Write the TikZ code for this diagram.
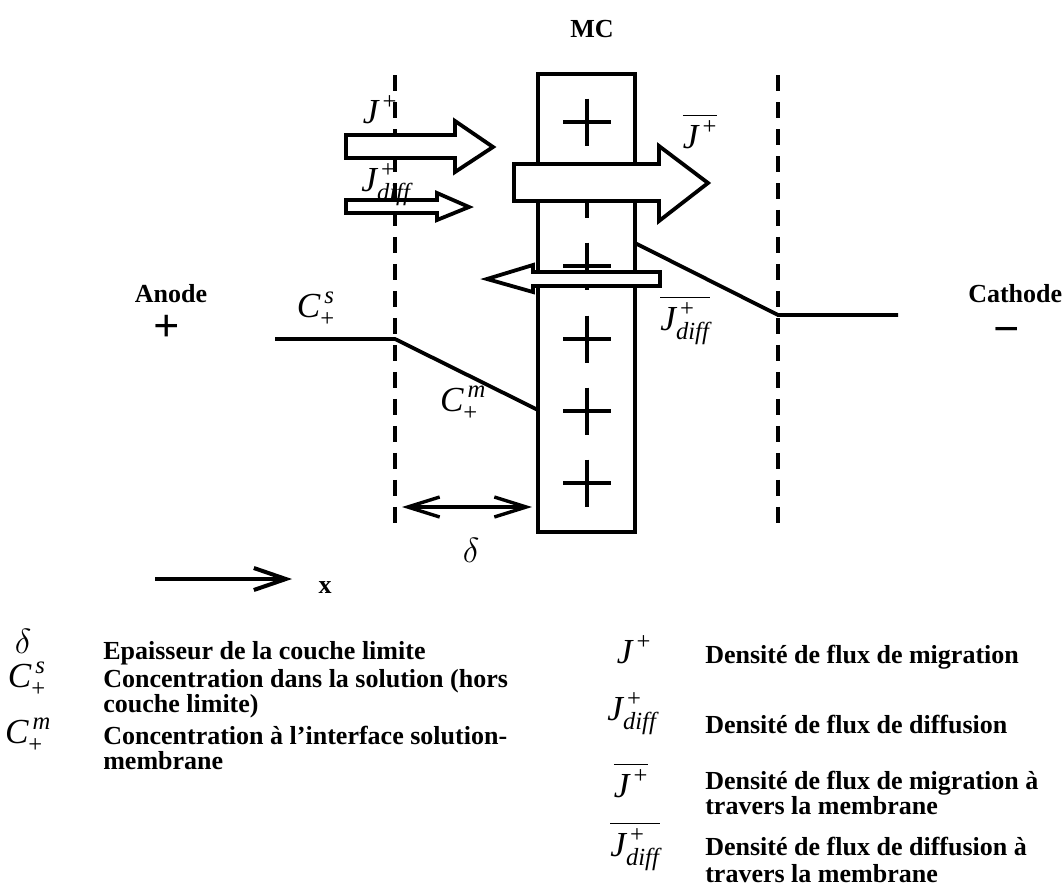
\documentclass[tikz,border=0pt]{standalone}
\usepackage{amsmath}
\usepackage{fontspec}
\setmainfont{Liberation Serif}
\usetikzlibrary{arrows.meta}
\usetikzlibrary{positioning}

\newcommand{\Jp}{\textit{J}^{\,\text{+}}}
\newcommand{\Jd}{\textit{J}^{\,\text{+}}_{\textit{diff}}}
\newcommand{\Cs}{\textit{C}^{\,\textit{s}}_{\text{+}}}
\newcommand{\Cm}{\textit{C}^{\,\textit{m}}_{\text{+}}}

\tikzset{
	lbl/.style={font=\fontsize{18.5}{18}\selectfont\bfseries, inner sep=0pt},
	sym/.style={font=\fontsize{25}{28}\selectfont, inner sep=0pt},
	pole/.style={font=\fontsize{33}{33}\selectfont\bfseries, inner sep=0pt, anchor=base, text height=0.5em, text depth=0pt},
	thickline/.style={line width=0.095cm},
	border/.style={line width=0.095cm, dash pattern=on 11.4pt off 7.8pt},
	blockarrow/.style={draw, fill=white, line width=0.095cm, line join=miter},
	barbs/.style={line width=0.1cm, -{Straight Barb[length=0.8cm, width=0.55cm]}},
	twobarbs/.style={line width=0.085cm, {Straight Barb[length=0.8cm, width=0.5cm]}-{Straight Barb[length=0.8cm, width=0.5cm]}},
}

\begin{document}
\begin{tikzpicture}[x=0.025cm, y=-0.025cm, line cap=butt, line join=miter]
		\useasboundingbox (0,0) rectangle (1064,888);
		% boundary layers
		\draw[border] (395,75) -- (395,532);
		\draw[border] (778,75) -- (778,532);
		% membrane with fixed charges
		\draw[thickline] (538,74) rectangle (635,532);
		\foreach \py in {122,194,266,339,411,483}
		\draw[thickline] (563,\py) -- (611,\py) (587,\py-23.5) -- (587,\py+23.5);
		\node[lbl] (mc) at (592,29) {MC};
		% concentration profile
		\draw[thickline] (275,339) -- (395,339) -- (538,410);
		\draw[thickline] (635,243) -- (778,315) -- (898,315);
		% fluxes
		\draw[blockarrow] (346,135) -- (455,135) -- (455,121) -- (493,147) -- (455,172) -- (455,158) -- (346,158) -- cycle;
		\draw[blockarrow] (346,200) -- (437,200) -- (437,193) -- (469,207) -- (437,220) -- (437,213) -- (346,213) -- cycle;
		\draw[blockarrow] (514,164) -- (659,164) -- (659,146) -- (708,183) -- (659,221) -- (659,201) -- (514,201) -- cycle;
		\draw[blockarrow] (660,272) -- (533,272) -- (533,265) -- (487,279) -- (533,292) -- (533,286) -- (660,286) -- cycle;
		\node[sym] (jm) at (380,110) {$\Jp$};
		\node[sym] (jd) at (386,185) {$\Jd$};
		\node[sym] (jmb) at (700,131) {$\overline{\Jp}$};
		\node[sym] (jdb) at (685,320) {$\overline{\Jd}$};
		\node[sym] (cs) at (316,309) {$\Cs$};
		\node[sym] (cm) at (463,403) {$\Cm$};
		% electrodes
		\node[lbl, anchor=base] (anode) at (171,302) {Anode};
		\node[pole] (plus) at (167,341) {+};
		\node[lbl, anchor=base west] (cathode) at (968,302) {Cathode};
		\node[pole] (minus) at (1007,344) {−};
		% delta and x axis
		\coordinate (da) at (402,507);
		\coordinate (db) at (532,507);
		\draw[twobarbs] (da) -- (db);
		\node[sym] (delta) at (471,550) {$\delta$};
		\coordinate (xa) at (155,579);
		\coordinate (xb) at (292,579);
		\draw[barbs] (xa) -- (xb);
		\node[lbl] (xlab) at (325,588) {x};
		% legend
		\node[sym] (ldelta) at (23,641) {$\delta$};
		\node[lbl, anchor=base west] (t1) at (103,659) {Epaisseur de la couche limite};
		\node[sym] (lcs) at (27,679) {$\Cs$};
		\node[lbl, anchor=base west] (t2) at (103,687) {Concentration dans la solution (hors};
		\node[lbl, anchor=base west] (t2b) at (103,712) {couche limite)};
		\node[sym] (lcm) at (28,735) {$\Cm$};
		\node[lbl, anchor=base west] (t3) at (103,744) {Concentration à l’interface solution-};
		\node[lbl, anchor=base west] (t3b) at (103,769) {membrane};
		\node[sym] (ljm) at (634,650) {$\Jp$};
		\node[lbl, anchor=base west] (t4) at (705,663) {Densité de flux de migration};
		\node[sym] (ljd) at (632,714) {$\Jd$};
		\node[lbl, anchor=base west] (t5) at (705,733) {Densité de flux de diffusion};
		\node[sym] (ljmb) at (631,780) {$\overline{\Jp}$};
		\node[lbl, anchor=base west] (t6) at (705,789) {Densité de flux de migration à};
		\node[lbl, anchor=base west] (t6b) at (705,814) {travers la membrane};
		\node[sym] (ljdb) at (635,846) {$\overline{\Jd}$};
		\node[lbl, anchor=base west] (t7) at (705,855) {Densité de flux de diffusion à};
		\node[lbl, anchor=base west] (t7b) at (705,882) {travers la membrane};
	\end{tikzpicture}
\end{document}
